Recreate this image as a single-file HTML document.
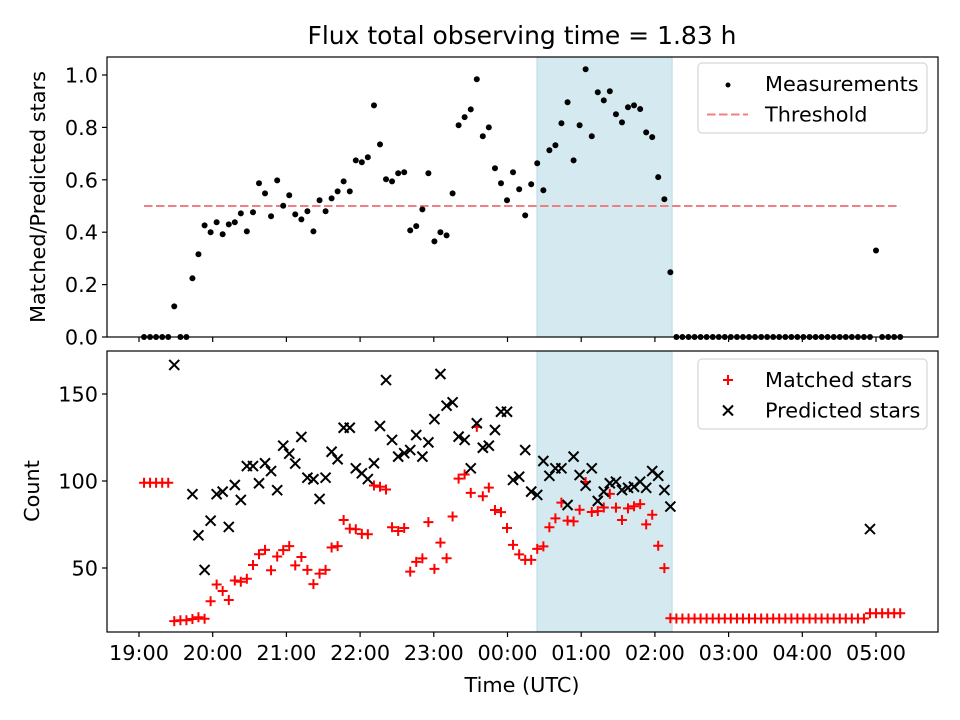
<!DOCTYPE html>
<html><head><meta charset="utf-8"><style>
html,body{margin:0;padding:0;background:#fff;}
svg{display:block;font-family:"DejaVu Sans","Liberation Sans",sans-serif;}
</style></head><body>
<svg id="chart" width="960" height="720" viewBox="0 0 960 720" xmlns="http://www.w3.org/2000/svg">
<rect width="960" height="720" fill="#fff"/>
<text x="522" y="44" font-size="25" text-anchor="middle">Flux total observing time = 1.83 h</text>
<g id="topPanel"></g>
<g id="botPanel"></g>
<text x="522" y="692" font-size="20.8" text-anchor="middle">Time (UTC)</text>
<text transform="translate(45,197) rotate(-90)" font-size="20.8" text-anchor="middle">Matched/Predicted stars</text>
<text transform="translate(39,491) rotate(-90)" font-size="20.8" text-anchor="middle">Count</text>
</svg>
<script>
// minutes since 19:00 UTC
const times = [4.1,9.0,13.9,18.9,23.8,28.7,33.7,38.6,43.5,48.4,53.4,58.3,63.2,68.1,73.1,78.0,82.9,87.8,92.8,97.7,102.6,107.5,112.5,117.4,122.3,127.2,132.2,137.1,142.0,147.0,151.9,156.8,161.7,166.6,171.6,176.5,181.4,186.3,191.3,196.2,201.1,206.0,211.0,215.9,220.8,225.7,230.7,235.6,240.5,245.4,250.4,255.3,260.2,265.1,270.1,275.0,279.9,284.8,289.8,294.7,299.6,304.5,309.5,314.4,319.3,324.2,329.2,334.1,339.0,343.9,348.9,353.8,358.7,363.6,368.6,373.5,378.4,383.3,388.3,393.2,398.1,403.0,408.0,412.9,417.8,422.7,427.7,432.6,437.5,442.4,447.4,452.3,457.2,462.1,467.1,472.0,476.9,481.8,486.8,491.7,496.6,501.5,506.5,511.4,516.3,521.2,526.2,531.1,536.0,540.9,545.9,550.8,555.7,560.6,565.6,570.5,575.4,580.3,585.3,590.2,595.1,600.0,605.0,609.9,614.8,619.7];
const ratio = [0,0,0,0,0,0.117,0,0,0.224,0.316,0.426,0.40,0.438,0.392,0.43,0.438,0.472,0.403,0.476,0.587,0.548,0.461,0.598,0.501,0.541,0.468,0.449,0.48,0.403,0.522,0.48,0.529,0.556,0.594,0.556,0.674,0.667,0.686,0.884,0.735,0.602,0.594,0.625,0.629,0.407,0.423,0.487,0.625,0.365,0.40,0.388,0.548,0.808,0.839,0.869,0.984,0.766,0.80,0.644,0.587,0.522,0.629,0.564,0.464,0.583,0.663,0.56,0.713,0.732,0.816,0.896,0.674,0.808,1.022,0.766,0.934,0.903,0.938,0.85,0.819,0.877,0.884,0.87,0.781,0.763,0.61,0.526,0.247,0,0,0,0,0,0,0,0,0,0,0,0,0,0,0,0,0,0,0,0,0,0,0,0,0,0,0,0,0,0,0,0,0,0.33,0,0,0,0,0];
const matched = [99,99,99,99,99,19.5,20,20,20.7,21.7,20.8,30.9,40.5,36.8,31.6,42.8,42.1,43.8,51.7,57.9,60.4,48.7,56.6,60.3,62.6,51.5,56.3,48.9,40.7,46.8,48.9,61.8,62.6,77.6,72.6,72.3,69.6,69.4,97.4,96.7,95.1,73.4,71.3,73,47.9,53.5,55.5,76.4,49.5,64.6,55.6,79.6,101.4,103.7,93.2,131.1,91.2,96.2,83.3,82.1,73,63.3,57.8,54.7,54.7,61,62.4,73.4,78.5,87.6,77.2,76.8,83.5,99.4,82.2,82.7,84.8,92.6,84.7,77.6,84.3,85.5,86.7,75.1,80.6,62.8,49.9,21.1,21,21,21,21,21,21,21,21,21,21,21,21,21,21,21,21,21,21,21,21,21,21,21,21,21,21,21,21,21,21,21,21,24,24,24,24,24,24];
const predicted = [null,null,null,null,null,166.7,null,null,92.4,68.8,48.9,77.2,92.4,93.9,73.6,97.7,89.1,108.6,108.6,98.7,110.2,105.7,94.7,120.3,115.7,110,125.3,101.9,101,89.7,101.9,116.8,112.5,130.6,130.6,107.3,104.4,101.1,110.2,131.6,158,123.6,114,116,117.8,126.4,114,122.2,135.5,161.5,143.3,145.2,125.5,123.6,107.3,133.2,119.1,120.3,129.3,139.8,139.8,100.6,102.5,117.8,93.9,92,111.5,103,107.3,107.3,86.2,114,103.4,97.3,107.3,88.5,93.9,98.7,99.6,94.8,96.1,96.7,99.6,96.1,105.7,103,94.8,85.3,null,null,null,null,null,null,null,null,null,null,null,null,null,null,null,null,null,null,null,null,null,null,null,null,null,null,null,null,null,null,null,null,72.4,null,null,null,null,null];
const xTickLabels = ["19:00","20:00","21:00","22:00","23:00","00:00","01:00","02:00","03:00","04:00","05:00"];
const topTicks = [0,0.2,0.4,0.6,0.8,1.0];
const botTicks = [50,100,150];
const threshold = 0.5;
const spanStartEnd = [324, 434];
const thresholdRange = [4.1, 619.7];

const NS="http://www.w3.org/2000/svg";
const L=107,R=938;
const T1=57,B1=337,T2=351,B2=632;
const FS=20.8;
const xs=t=>139+t*73.7/60;
const yTop=v=>337-v*262;
const yBot=v=>481-(v-100)*87/50;
function mk(p,tag,attrs){const e=document.createElementNS(NS,tag);for(const k in attrs)e.setAttribute(k,attrs[k]);p.appendChild(e);return e;}
const topG=document.getElementById('topPanel'), botG=document.getElementById('botPanel');

function panel(g,T,B,yf,ticks,fmt,labelX){
  let s=mk(g,'rect',{x:xs(spanStartEnd[0]),y:T,width:xs(spanStartEnd[1])-xs(spanStartEnd[0]),height:B-T,fill:'#d4eaf0',stroke:'#b8dbe6','stroke-width':1});
  
  
  xTickLabels.forEach((lab,i)=>{const x=xs(i*60);
    const t=mk(g,'line',{x1:x,x2:x,y1:B,y2:B+5,stroke:'#000','stroke-width':1.2});
    
    
    if(labelX){const tx=mk(g,'text',{x:x,y:B+28,'font-size':FS,'text-anchor':'middle'});tx.textContent=lab;
      
      }
  });
  ticks.forEach(v=>{const y=yf(v);
    const t=mk(g,'line',{x1:L-5,x2:L,y1:y,y2:y,stroke:'#000','stroke-width':1.2});
    
    
    const tx=mk(g,'text',{x:L-9,y:y+7.5,'font-size':FS,'text-anchor':'end'});tx.textContent=fmt(v);
    
    
  });
}
panel(topG,T1,B1,yTop,topTicks,v=>v.toFixed(1),false);
panel(botG,T2,B2,yBot,botTicks,v=>String(v),true);

let th=mk(topG,'line',{x1:xs(thresholdRange[0]),x2:xs(thresholdRange[1]),y1:yTop(threshold),y2:yTop(threshold),stroke:'#f08080','stroke-width':2,'stroke-dasharray':'8.5 3.5'});


times.forEach((t,i)=>{if(ratio[i]==null)return;const c=mk(topG,'circle',{cx:xs(t),cy:yTop(ratio[i]),r:3,fill:'#000'});
  
  });
times.forEach((t,i)=>{if(matched[i]==null)return;const x=xs(t),y=yBot(matched[i]);
  const p=mk(botG,'path',{d:`M${x-5},${y}H${x+5}M${x},${y-5}V${y+5}`,stroke:'#ff0000','stroke-width':2,fill:'none'});
  
  });
times.forEach((t,i)=>{if(predicted[i]==null)return;const x=xs(t),y=yBot(predicted[i]);
  const p=mk(botG,'path',{d:`M${x-5},${y-5}L${x+5},${y+5}M${x-5},${y+5}L${x+5},${y-5}`,stroke:'#000','stroke-width':2,fill:'none'});
  
  });

[[T1,B1,topG],[T2,B2,botG]].forEach(([T,B,g])=>{const f=mk(g,'rect',{x:L,y:T,width:R-L,height:B-T,fill:'none',stroke:'#000','stroke-width':1.2});
  
  });

function legend(g,y0,items){const lg=mk(g,'g',{});
  
  
  mk(lg,'rect',{x:698,y:y0,width:229,height:70,rx:4,fill:'#fff','fill-opacity':0.8,stroke:'#d6d6d6','stroke-width':1.2});
  items.forEach((it,i)=>{const y=y0+21+i*30.5;it.draw(lg,725,y);
    const tx=mk(lg,'text',{x:765,y:y+7,'font-size':FS});tx.textContent=it.label;
    
    });}
legend(topG,63,[
 {label:'Measurements',draw:(g,x,y)=>mk(g,'circle',{cx:x+3,cy:y+1,r:2.5,fill:'#000'})},
 {label:'Threshold',draw:(g,x,y)=>mk(g,'line',{x1:x-18,x2:x+23,y1:y,y2:y,stroke:'#f08080','stroke-width':2,'stroke-dasharray':'8.5 3.5'})}
]);
legend(botG,359,[
 {label:'Matched stars',draw:(g,x,y)=>mk(g,'path',{d:`M${x-2},${y}H${x+8}M${x+3},${y-5}V${y+5}`,stroke:'#f00','stroke-width':2})},
 {label:'Predicted stars',draw:(g,x,y)=>mk(g,'path',{d:`M${x-2},${y-5}L${x+8},${y+5}M${x-2},${y+5}L${x+8},${y-5}`,stroke:'#000','stroke-width':2})}
]);
</script>
</body></html>
